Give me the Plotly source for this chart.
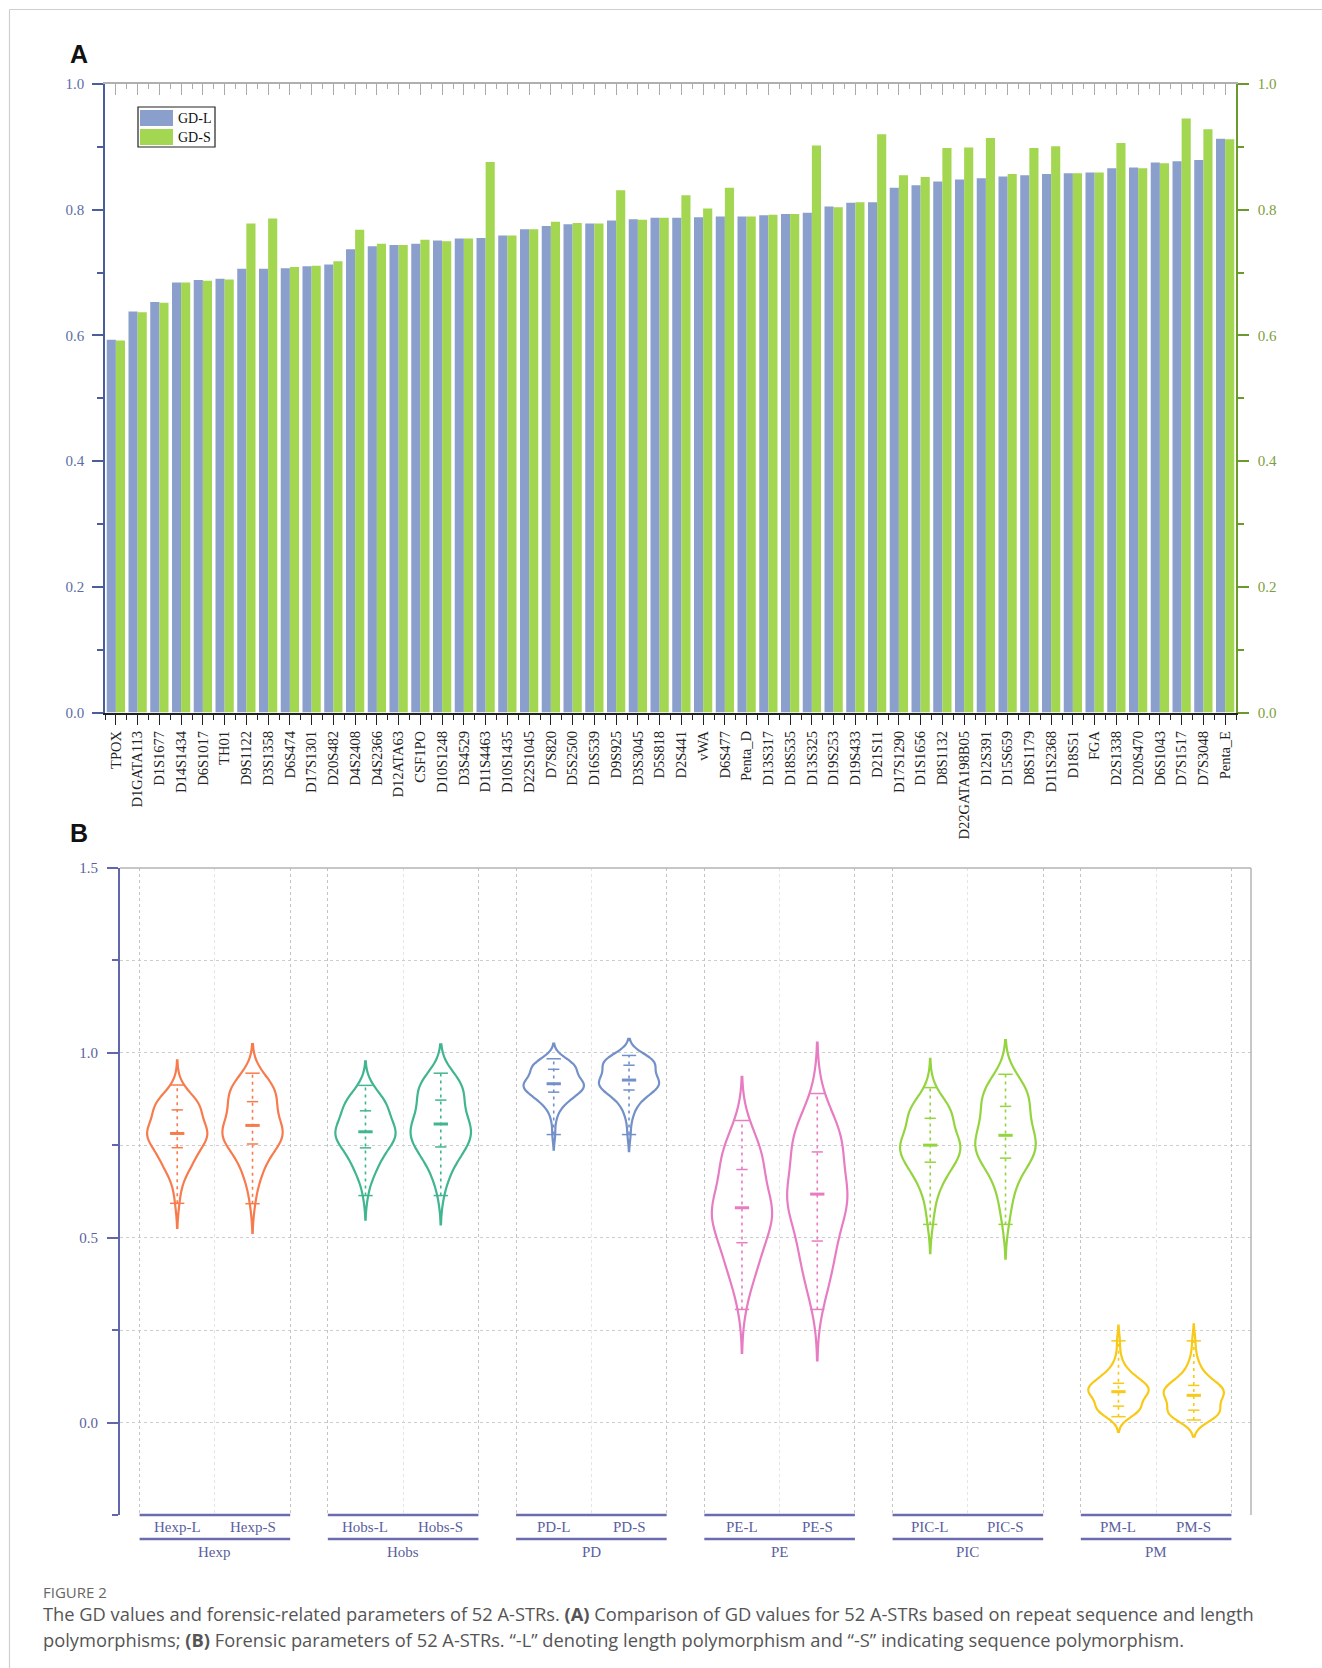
import numpy as np
import plotly.graph_objects as go

# ---------------------------------------------------------------- data
LOCI = ["TPOX", "D1GATA113", "D1S1677", "D14S1434", "D6S1017", "TH01", "D9S1122",
        "D3S1358", "D6S474", "D17S1301", "D20S482", "D4S2408", "D4S2366", "D12ATA63",
        "CSF1PO", "D10S1248", "D3S4529", "D11S4463", "D10S1435", "D22S1045", "D7S820",
        "D5S2500", "D16S539", "D9S925", "D3S3045", "D5S818", "D2S441", "vWA", "D6S477",
        "Penta_D", "D13S317", "D18S535", "D13S325", "D19S253", "D19S433", "D21S11",
        "D17S1290", "D1S1656", "D8S1132", "D22GATA198B05", "D12S391", "D15S659",
        "D8S1179", "D11S2368", "D18S51", "FGA", "D2S1338", "D20S470", "D6S1043",
        "D7S1517", "D7S3048", "Penta_E"]

GD_L = [0.593, 0.638, 0.653, 0.684, 0.688, 0.690, 0.706, 0.706, 0.707, 0.710,
        0.713, 0.737, 0.742, 0.744, 0.746, 0.751, 0.754, 0.755, 0.759, 0.769,
        0.774, 0.777, 0.778, 0.783, 0.785, 0.787, 0.787, 0.788, 0.789, 0.789,
        0.791, 0.793, 0.795, 0.805, 0.811, 0.812, 0.835, 0.839, 0.845, 0.848,
        0.850, 0.853, 0.855, 0.857, 0.858, 0.859, 0.866, 0.867, 0.875, 0.877,
        0.879, 0.913]
GD_S = [0.592, 0.637, 0.652, 0.684, 0.687, 0.689, 0.778, 0.786, 0.709, 0.711,
        0.718, 0.768, 0.746, 0.744, 0.752, 0.750, 0.754, 0.876, 0.759, 0.769,
        0.781, 0.779, 0.778, 0.831, 0.784, 0.787, 0.823, 0.802, 0.835, 0.789,
        0.792, 0.793, 0.902, 0.804, 0.812, 0.920, 0.855, 0.852, 0.898, 0.899,
        0.914, 0.857, 0.898, 0.901, 0.858, 0.859, 0.906, 0.866, 0.874, 0.945,
        0.928, 0.912]

HOBS_L = [0.614, 0.652, 0.671, 0.698, 0.675, 0.706, 0.689, 0.721, 0.733, 0.702,
          0.728, 0.756, 0.735, 0.761, 0.740, 0.768, 0.744, 0.772, 0.751, 0.779,
          0.786, 0.764, 0.791, 0.775, 0.797, 0.781, 0.802, 0.784, 0.776, 0.808,
          0.795, 0.783, 0.812, 0.789, 0.821, 0.816, 0.829, 0.847, 0.838, 0.855,
          0.842, 0.861, 0.849, 0.873, 0.852, 0.866, 0.884, 0.858, 0.891, 0.870,
          0.898, 0.912]
HOBS_S = [0.614, 0.652, 0.671, 0.698, 0.675, 0.706, 0.761, 0.801, 0.735, 0.703,
          0.733, 0.787, 0.739, 0.742, 0.746, 0.768, 0.744, 0.893, 0.751, 0.779,
          0.793, 0.738, 0.791, 0.823, 0.797, 0.781, 0.838, 0.798, 0.822, 0.808,
          0.795, 0.783, 0.919, 0.789, 0.821, 0.924, 0.849, 0.860, 0.891, 0.906,
          0.908, 0.865, 0.892, 0.917, 0.852, 0.866, 0.926, 0.858, 0.891, 0.938,
          0.945, 0.912]

PD_L = [0.779, 0.822, 0.838, 0.861, 0.866, 0.858, 0.875, 0.872, 0.879, 0.884,
        0.881, 0.893, 0.889, 0.897, 0.894, 0.901, 0.898, 0.905, 0.903, 0.908,
        0.911, 0.910, 0.913, 0.912, 0.914, 0.916, 0.915, 0.918, 0.917, 0.925,
        0.920, 0.922, 0.927, 0.931, 0.934, 0.938, 0.946, 0.951, 0.955, 0.958,
        0.957, 0.962, 0.960, 0.963, 0.966, 0.965, 0.970, 0.968, 0.973, 0.975,
        0.977, 0.984]
PD_S = [0.779, 0.821, 0.837, 0.861, 0.865, 0.857, 0.925, 0.930, 0.880, 0.885,
        0.884, 0.913, 0.891, 0.897, 0.897, 0.900, 0.898, 0.965, 0.903, 0.908,
        0.914, 0.911, 0.913, 0.936, 0.914, 0.916, 0.933, 0.925, 0.939, 0.925,
        0.921, 0.922, 0.973, 0.931, 0.934, 0.982, 0.954, 0.956, 0.975, 0.977,
        0.982, 0.964, 0.976, 0.980, 0.966, 0.965, 0.984, 0.968, 0.973, 0.993,
        0.990, 0.984]

PE_L = [0.306, 0.352, 0.381, 0.421, 0.389, 0.436, 0.407, 0.462, 0.482, 0.428,
        0.473, 0.521, 0.470, 0.530, 0.480, 0.543, 0.488, 0.550, 0.512, 0.561,
        0.576, 0.536, 0.585, 0.555, 0.596, 0.566, 0.605, 0.572, 0.558, 0.617,
        0.591, 0.569, 0.624, 0.580, 0.641, 0.632, 0.657, 0.692, 0.674, 0.708,
        0.682, 0.721, 0.697, 0.745, 0.703, 0.731, 0.765, 0.715, 0.779, 0.738,
        0.793, 0.817]
PE_S = [0.306, 0.352, 0.381, 0.400, 0.389, 0.415, 0.529, 0.601, 0.482, 0.410,
        0.473, 0.578, 0.479, 0.485, 0.492, 0.606, 0.488, 0.735, 0.615, 0.612,
        0.589, 0.483, 0.585, 0.643, 0.596, 0.610, 0.669, 0.598, 0.641, 0.617,
        0.591, 0.569, 0.790, 0.580, 0.641, 0.800, 0.694, 0.718, 0.781, 0.760,
        0.765, 0.728, 0.783, 0.770, 0.703, 0.731, 0.805, 0.715, 0.779, 0.866,
        0.890, 0.817]

PIC_L = [0.536, 0.571, 0.598, 0.629, 0.637, 0.640, 0.662, 0.670, 0.675, 0.680,
         0.684, 0.696, 0.702, 0.705, 0.708, 0.713, 0.716, 0.719, 0.724, 0.733,
         0.738, 0.741, 0.743, 0.746, 0.749, 0.751, 0.753, 0.755, 0.756, 0.758,
         0.760, 0.763, 0.766, 0.776, 0.784, 0.787, 0.809, 0.815, 0.822, 0.826,
         0.829, 0.832, 0.835, 0.838, 0.840, 0.842, 0.851, 0.853, 0.863, 0.866,
         0.869, 0.906]
PIC_S = [0.536, 0.570, 0.597, 0.629, 0.636, 0.639, 0.742, 0.752, 0.677, 0.681,
         0.689, 0.731, 0.706, 0.705, 0.713, 0.712, 0.716, 0.862, 0.724, 0.733,
         0.746, 0.744, 0.743, 0.804, 0.748, 0.771, 0.795, 0.772, 0.809, 0.778,
         0.781, 0.763, 0.893, 0.775, 0.785, 0.913, 0.836, 0.833, 0.888, 0.890,
         0.907, 0.838, 0.887, 0.892, 0.840, 0.842, 0.898, 0.853, 0.862, 0.942,
         0.922, 0.905]

PM_L = [0.221, 0.178, 0.162, 0.139, 0.134, 0.142, 0.125, 0.128, 0.121, 0.116,
        0.119, 0.107, 0.111, 0.103, 0.106, 0.099, 0.102, 0.095, 0.097, 0.092,
        0.089, 0.090, 0.087, 0.088, 0.086, 0.084, 0.085, 0.082, 0.083, 0.075,
        0.080, 0.078, 0.073, 0.069, 0.066, 0.062, 0.054, 0.049, 0.045, 0.042,
        0.043, 0.038, 0.040, 0.037, 0.034, 0.035, 0.030, 0.032, 0.027, 0.025,
        0.023, 0.016]
PM_S = [0.221, 0.179, 0.163, 0.139, 0.135, 0.143, 0.075, 0.070, 0.120, 0.115,
        0.116, 0.087, 0.109, 0.103, 0.103, 0.100, 0.102, 0.035, 0.097, 0.092,
        0.086, 0.089, 0.087, 0.064, 0.086, 0.084, 0.067, 0.075, 0.061, 0.075,
        0.079, 0.078, 0.027, 0.069, 0.066, 0.018, 0.046, 0.044, 0.025, 0.023,
        0.018, 0.036, 0.024, 0.020, 0.034, 0.035, 0.016, 0.032, 0.027, 0.007,
        0.010, 0.016]

SERIES_NAMES = ["GD-L", "GD-S"]
PARAMS = ["Hexp", "Hobs", "PD", "PE", "PIC", "PM"]
SUFFIXES = ["L", "S"]
PARAM_VALUES = {
    "Hexp": (GD_L, GD_S),
    "Hobs": (HOBS_L, HOBS_S),
    "PD": (PD_L, PD_S),
    "PE": (PE_L, PE_S),
    "PIC": (PIC_L, PIC_S),
    "PM": (PM_L, PM_S),
}

# ---------------------------------------------------------------- style
W, H = 1322, 1668
SERIF = "Liberation Serif"
SANS = "Liberation Sans"
BAR_COLORS = ["#8b9fcd", "#a3d651"]
LEFT_AX = "#4b5e9c"
LEFT_TXT = "#5a6ea6"
RIGHT_AX = "#6b9a2c"
RIGHT_TXT = "#7d9e3c"
B_AX = "#6266aa"
B_TXT = "#5b5f9e"
VIOLIN_COLORS = {"Hexp": "#f77b4c", "Hobs": "#40b590", "PD": "#7390c9",
                 "PE": "#e87cc2", "PIC": "#94d43f", "PM": "#f8c916"}
GROUP_STEP = 2.5


def px(x):
    return x / W


def py(y):
    return 1 - y / H


fig = go.Figure()

# ---------------------------------------------------------------- panel A
idx = list(range(len(LOCI)))
for name, vals, col in zip(SERIES_NAMES, (GD_L, GD_S), BAR_COLORS):
    fig.add_trace(go.Bar(x=idx, y=vals, name=name, marker=dict(color=col, line=dict(width=0)),
                         xaxis="x", yaxis="y", showlegend=False, hoverinfo="x+y"))
# empty helpers so the mirrored axes get drawn
fig.add_trace(go.Scatter(x=[None], y=[None], xaxis="x2", yaxis="y", showlegend=False, hoverinfo="skip"))
fig.add_trace(go.Scatter(x=[None], y=[None], xaxis="x", yaxis="y2", showlegend=False, hoverinfo="skip"))

xr = [-0.5, len(LOCI) - 0.5]
dom_a_x = [px(105), px(1236)]
dom_a_y = [py(712.5), py(84)]

# ---------------------------------------------------------------- panel B
for gi, p in enumerate(PARAMS):
    color = VIOLIN_COLORS[p]
    for si, suf in enumerate(SUFFIXES):
        vals = np.asarray(PARAM_VALUES[p][si], dtype=float)
        xc = gi * GROUP_STEP + si + 0.5
        fig.add_trace(go.Violin(x0=xc, y=vals, name=f"{p}-{suf}", xaxis="x3", yaxis="y3",
                                line=dict(color=color, width=2.2), fillcolor="rgba(0,0,0,0)",
                                points=False, width=0.8, showlegend=False, hoverinfo="skip",
                                spanmode="soft"))
        mn, mx = vals.min(), vals.max()
        q1, q3 = np.percentile(vals, [25, 75])
        mean = vals.mean()
        # dotted spine from minimum to maximum
        fig.add_trace(go.Scatter(x=[xc, xc], y=[mn, mx], mode="lines", xaxis="x3", yaxis="y3",
                                 line=dict(color=color, width=1.6, dash="3px,4px"),
                                 showlegend=False, hoverinfo="skip"))
        # summary dashes
        xs, ys = [], []
        for v, hw in ((mn, 0.095), (q1, 0.075), (q3, 0.075), (mx, 0.095)):
            xs += [xc - hw, xc + hw, None]
            ys += [v, v, None]
        fig.add_trace(go.Scatter(x=xs, y=ys, mode="lines", xaxis="x3", yaxis="y3",
                                 line=dict(color=color, width=1.5), showlegend=False, hoverinfo="skip"))
        fig.add_trace(go.Scatter(x=[xc - 0.095, xc + 0.095], y=[mean, mean], mode="lines",
                                 xaxis="x3", yaxis="y3", line=dict(color=color, width=3),
                                 showlegend=False, hoverinfo="skip"))

n_groups = len(PARAMS)
group_edges = []
for gi in range(n_groups):
    group_edges += [gi * GROUP_STEP, gi * GROUP_STEP + 2]
xr_b = [-0.26, (n_groups - 1) * GROUP_STEP + 2 + 0.26]
dom_b_x = [px(120), px(1251)]
dom_b_y = [py(1515), py(868)]

# ---------------------------------------------------------------- layout
tickfont_a = dict(family=SERIF, size=14.5, color="#222222")
fig.update_layout(
    width=W, height=H, margin=dict(l=0, r=0, t=0, b=0, pad=0, autoexpand=False),
    paper_bgcolor="white", plot_bgcolor="rgba(0,0,0,0)",
    barmode="group", bargap=0.16, bargroupgap=0.0, violinmode="overlay",
    showlegend=False,
    xaxis=dict(domain=dom_a_x, anchor="y", range=xr, tickmode="array", tickvals=idx,
               ticktext=LOCI, tickangle=-90, tickfont=tickfont_a, ticks="outside",
               ticklen=11, tickwidth=1.3, tickcolor="#222222", showline=True,
               linecolor="#222222", linewidth=1.5, showgrid=False, zeroline=False,
               automargin=False,
               minor=dict(ticks="outside", ticklen=6, tickwidth=1.3, tickcolor="#222222",
                          tick0=-0.5, dtick=1, showgrid=False)),
    xaxis2=dict(domain=dom_a_x, anchor="y", overlaying="x", side="top", range=xr,
                tickmode="array", tickvals=idx, showticklabels=False, ticks="inside",
                ticklen=11, tickwidth=1.3, tickcolor="#aaaaaa", showline=True,
                linecolor="#b0b0b0", linewidth=1.5, showgrid=False, zeroline=False,
                automargin=False,
                minor=dict(ticks="inside", ticklen=5, tickwidth=1.3, tickcolor="#aaaaaa",
                           tick0=-0.5, dtick=1, showgrid=False)),
    yaxis=dict(domain=dom_a_y, anchor="x", range=[0, 1], tickmode="array",
               tickvals=[0, 0.2, 0.4, 0.6, 0.8, 1.0], tickformat=".1f",
               tickfont=dict(family=SERIF, size=15, color=LEFT_TXT), ticks="outside",
               ticklen=11, tickwidth=1.5, tickcolor=LEFT_AX, showline=True,
               linecolor=LEFT_AX, linewidth=1.5, showgrid=False, zeroline=False,
               ticklabelstandoff=5, automargin=False,
               minor=dict(ticks="outside", ticklen=6, tickwidth=1.5, tickcolor=LEFT_AX,
                          tick0=0, dtick=0.1, showgrid=False)),
    yaxis2=dict(domain=dom_a_y, anchor="x", overlaying="y", side="right", range=[0, 1],
                tickmode="array", tickvals=[0, 0.2, 0.4, 0.6, 0.8, 1.0], tickformat=".1f",
                tickfont=dict(family=SERIF, size=15, color=RIGHT_TXT), ticks="outside",
                ticklen=11, tickwidth=1.5, tickcolor=RIGHT_AX, showline=True,
                linecolor=RIGHT_AX, linewidth=1.5, showgrid=False, zeroline=False,
                ticklabelstandoff=6, automargin=False,
                minor=dict(ticks="outside", ticklen=6, tickwidth=1.5, tickcolor=RIGHT_AX,
                           tick0=0, dtick=0.1, showgrid=False)),
    xaxis3=dict(domain=dom_b_x, anchor="y3", range=xr_b, tickmode="array",
                tickvals=group_edges, showticklabels=False, ticks="", showline=False,
                zeroline=False, showgrid=True, gridcolor="#c4c4c4", griddash="dot",
                gridwidth=1, automargin=False,
                minor=dict(tick0=1, dtick=GROUP_STEP, ticks="", showgrid=True,
                           gridcolor="#e4e4e4", griddash="dot", gridwidth=1)),
    yaxis3=dict(domain=dom_b_y, anchor="x3", range=[-0.25, 1.5], tickmode="array",
                tickvals=[0, 0.5, 1.0, 1.5], tickformat=".1f",
                tickfont=dict(family=SERIF, size=15, color=B_TXT), ticks="outside",
                ticklen=11, tickwidth=2, tickcolor=B_AX, showline=True, linecolor=B_AX,
                linewidth=2, zeroline=False, showgrid=True, gridcolor="#cdcdcd",
                griddash="dot", gridwidth=1, ticklabelstandoff=6, automargin=False,
                minor=dict(ticks="outside", ticklen=6, tickwidth=2, tickcolor=B_AX,
                           tick0=0, dtick=0.25, showgrid=True, gridcolor="#cdcdcd",
                           griddash="dot", gridwidth=1)),
)

shapes = []
annotations = []

# outer frame
shapes.append(dict(type="line", xref="paper", yref="paper", x0=px(9.5), x1=px(9.5),
                   y0=0, y1=py(9.5), line=dict(color="#cfcfcf", width=1.2)))
shapes.append(dict(type="line", xref="paper", yref="paper", x0=px(9.5), x1=1,
                   y0=py(9.5), y1=py(9.5), line=dict(color="#cfcfcf", width=1.2)))

# panel labels
for lab, (lx, ly) in (("A", (68, 54)), ("B", (68, 833))):
    annotations.append(dict(text=f"<b>{lab}</b>", xref="paper", yref="paper", x=px(lx), y=py(ly),
                            xanchor="left", yanchor="middle", showarrow=False,
                            font=dict(family=SANS, size=25, color="#111111")))

# legend of panel A
shapes.append(dict(type="rect", xref="paper", yref="paper", x0=px(138), x1=px(215),
                   y0=py(147), y1=py(107), line=dict(color="#222222", width=1.2),
                   fillcolor="white"))
for k, (name, col) in enumerate(zip(SERIES_NAMES, BAR_COLORS)):
    top = 110 + k * 19
    shapes.append(dict(type="rect", xref="paper", yref="paper", x0=px(140), x1=px(173),
                       y0=py(top + 16), y1=py(top), line=dict(width=0), fillcolor=col))
    annotations.append(dict(text=name, xref="paper", yref="paper", x=px(175.5), y=py(top + 8),
                            xanchor="left", yanchor="middle", showarrow=False,
                            font=dict(family=SERIF, size=14, color="#111111")))

# panel B frame (top and right edges)
shapes.append(dict(type="line", xref="x3 domain", yref="y3 domain", x0=0, x1=1, y0=1, y1=1,
                   line=dict(color="#b4b4b4", width=1.5)))
shapes.append(dict(type="line", xref="x3 domain", yref="y3 domain", x0=1, x1=1, y0=0, y1=1,
                   line=dict(color="#b4b4b4", width=1.5)))

# two-level category axis of panel B
for gi, p in enumerate(PARAMS):
    g0 = gi * GROUP_STEP
    for yy in (1515, 1539):
        shapes.append(dict(type="line", xref="x3", yref="paper", x0=g0, x1=g0 + 2,
                           y0=py(yy), y1=py(yy), line=dict(color="#6b6cb0", width=2.5)))
    for si, suf in enumerate(SUFFIXES):
        annotations.append(dict(text=f"{p}-{suf}", xref="x3", yref="paper", x=g0 + si + 0.5,
                                y=py(1527), xanchor="center", yanchor="middle", showarrow=False,
                                font=dict(family=SERIF, size=15, color=B_TXT)))
    annotations.append(dict(text=p, xref="x3", yref="paper", x=g0 + 1, y=py(1552),
                            xanchor="center", yanchor="middle", showarrow=False,
                            font=dict(family=SERIF, size=15, color=B_TXT)))

# caption
annotations.append(dict(text="FIGURE 2", xref="paper", yref="paper", x=px(41), y=py(1592),
                        xanchor="left", yanchor="middle", showarrow=False,
                        font=dict(family="Open Sans", size=15, color="#666666")))
caption_lines = [
    "The GD values and forensic-related parameters of 52 A-STRs. <b>(A)</b> Comparison of GD "
    "values for 52 A-STRs based on repeat sequence and length",
    "polymorphisms; <b>(B)</b> Forensic parameters of 52 A-STRs. “-L” denoting length "
    "polymorphism and “-S” indicating sequence polymorphism.",
]
for k, line in enumerate(caption_lines):
    annotations.append(dict(text=line, xref="paper", yref="paper", x=px(41), y=py(1613 + 26 * k),
                            xanchor="left", yanchor="middle", showarrow=False,
                            font=dict(family="Open Sans", size=18.3, color="#555555")))

fig.update_layout(shapes=shapes, annotations=annotations)

fig.write_html("out.html")
